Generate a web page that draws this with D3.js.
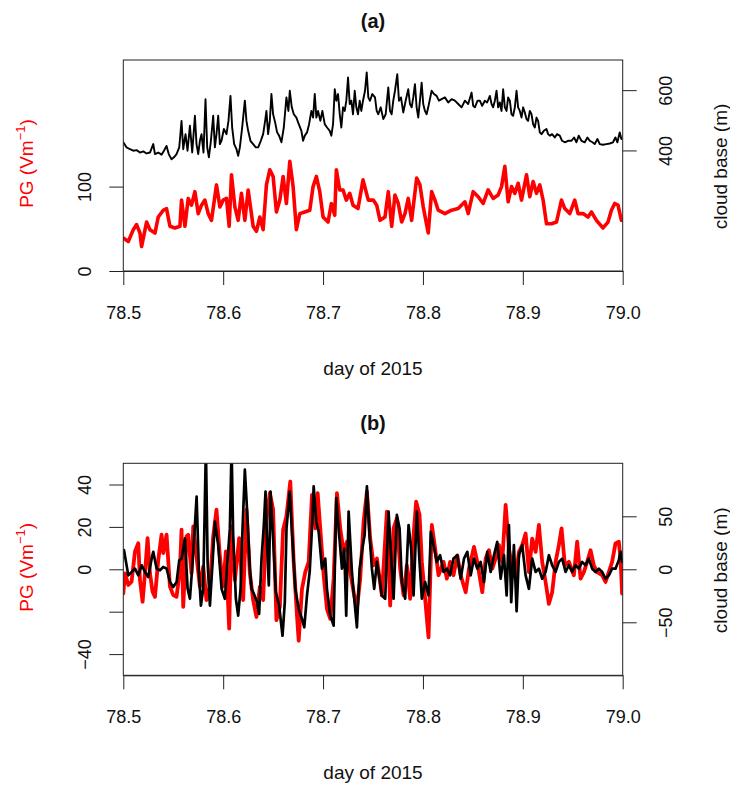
<!DOCTYPE html>
<html><head><meta charset="utf-8">
<script src="https://cdn.jsdelivr.net/npm/d3@7"></script>
<style>
html,body{margin:0;padding:0;background:#fff;}
svg{display:block;font-family:"Liberation Sans",Arial,Helvetica,sans-serif;}
</style></head><body>
<svg id="chart" width="730" height="785"></svg>
<script>
// ---------- DATA ----------
const xTicks = [78.5, 78.6, 78.7, 78.8, 78.9, 79.0];
const xTitle = "day of 2015";
const panelTitles = ["(a)", "(b)"];

// Panel (a): potential gradient (PG, V/m)
const aPgDay = [
78.5000,78.5050,78.5100,78.5133,78.5167,78.5183,78.5233,78.5267,78.5317,78.5350,
78.5400,78.5433,78.5467,78.5517,78.5567,78.5583,78.5617,78.5650,78.5683,78.5717,
78.5750,78.5783,78.5817,78.5850,78.5883,78.5933,78.5967,78.6000,78.6033,78.6060,
78.6083,78.6117,78.6150,78.6183,78.6217,78.6250,78.6300,78.6333,78.6367,78.6400,
78.6433,78.6467,78.6500,78.6533,78.6567,78.6600,78.6633,78.6667,78.6700,78.6733,
78.6767,78.6817,78.6867,78.6900,78.6933,78.6967,78.7000,78.7050,78.7083,78.7117,
78.7133,78.7167,78.7200,78.7233,78.7267,78.7300,78.7350,78.7400,78.7453,78.7503,
78.7537,78.7570,78.7620,78.7653,78.7687,78.7720,78.7753,78.7787,78.7820,78.7853,
78.7887,78.7937,78.7970,78.8003,78.8053,78.8087,78.8120,78.8153,78.8220,78.8287,
78.8353,78.8420,78.8453,78.8503,78.8553,78.8603,78.8653,78.8703,78.8753,78.8787,
78.8820,78.8853,78.8887,78.8920,78.8953,78.8987,78.9037,78.9070,78.9103,78.9137,
78.9170,78.9203,78.9237,78.9287,78.9337,78.9387,78.9420,78.9470,78.9520,78.9553,
78.9603,78.9653,78.9687,78.9737,78.9803,78.9853,78.9887,78.9920,78.9953,78.9987];
const aPg = [
39,35,49,55,45,29,58,49,45,64,
72,74,53,51,53,84,53,86,78,94,
68,78,84,68,60,102,76,84,86,53,
114,76,60,92,60,96,53,47,64,49,
102,120,112,70,84,112,80,130,100,49,
68,70,72,100,112,94,64,58,80,66,
120,96,96,84,92,78,74,108,84,84,
78,60,64,94,53,90,80,58,68,86,
60,110,102,76,45,94,84,72,68,72,
74,82,68,94,88,80,96,86,90,100,
124,82,100,92,104,84,114,88,106,92,
102,84,56,56,58,84,74,68,84,68,
68,64,70,60,51,58,72,80,78,60];

// Panel (a): cloud base (m)
const aCbDay = [
78.5000,78.5033,78.5067,78.5100,78.5133,78.5167,78.5200,78.5233,78.5267,78.5300,
78.5317,78.5350,78.5383,78.5407,78.5433,78.5457,78.5483,78.5507,78.5533,78.5560,
78.5583,78.5600,78.5623,78.5643,78.5667,78.5690,78.5717,78.5733,78.5750,78.5767,
78.5783,78.5803,78.5823,78.5840,78.5857,78.5877,78.5900,78.5917,78.5933,78.5950,
78.5967,78.5983,78.6007,78.6033,78.6053,78.6073,78.6090,78.6110,78.6133,78.6150,
78.6167,78.6190,78.6217,78.6233,78.6250,78.6273,78.6300,78.6327,78.6350,78.6377,
78.6400,78.6420,78.6433,78.6450,78.6467,78.6483,78.6500,78.6520,78.6540,78.6560,
78.6583,78.6607,78.6633,78.6653,78.6667,78.6687,78.6707,78.6733,78.6757,78.6783,
78.6800,78.6817,78.6840,78.6860,78.6883,78.6900,78.6917,78.6933,78.6950,78.6973,
78.6993,78.7017,78.7040,78.7067,78.7083,78.7100,78.7117,78.7133,78.7150,78.7167,
78.7183,78.7200,78.7217,78.7233,78.7250,78.7267,78.7283,78.7300,78.7317,78.7333,
78.7350,78.7367,78.7383,78.7400,78.7420,78.7437,78.7453,78.7470,78.7493,78.7520,
78.7537,78.7553,78.7577,78.7603,78.7627,78.7653,78.7670,78.7687,78.7703,78.7720,
78.7743,78.7760,78.7780,78.7803,78.7827,78.7853,78.7870,78.7887,78.7903,78.7920,
78.7937,78.7953,78.7970,78.7987,78.8003,78.8020,78.8037,78.8053,78.8087,78.8110,
78.8137,78.8160,78.8187,78.8220,78.8253,78.8287,78.8320,78.8353,78.8387,78.8420,
78.8453,78.8487,78.8503,78.8520,78.8547,78.8570,78.8593,78.8620,78.8643,78.8670,
78.8687,78.8703,78.8720,78.8737,78.8753,78.8770,78.8787,78.8803,78.8820,78.8837,
78.8853,78.8870,78.8887,78.8903,78.8920,78.8937,78.8953,78.8970,78.8987,78.9003,
78.9020,78.9037,78.9053,78.9070,78.9087,78.9103,78.9120,78.9137,78.9153,78.9170,
78.9187,78.9210,78.9237,78.9253,78.9270,78.9293,78.9320,78.9343,78.9370,78.9393,
78.9420,78.9453,78.9487,78.9513,78.9537,78.9560,78.9587,78.9620,78.9647,78.9670,
78.9697,78.9720,78.9747,78.9770,78.9803,78.9837,78.9870,78.9903,78.9927,78.9947,
78.9970,78.9987];
const aCb = [
427,410,404,399,401,393,397,390,393,421,
388,393,386,399,415,386,371,377,388,410,
498,404,454,399,482,393,515,421,388,432,
454,393,570,410,377,432,515,410,454,515,
421,432,471,454,498,581,476,421,404,382,
410,476,565,498,465,432,421,410,410,432,
454,498,531,454,498,587,520,493,460,449,
427,476,576,531,598,543,520,509,487,465,
432,449,460,487,531,509,587,509,531,498,
531,487,476,465,449,487,603,565,587,520,
476,543,531,565,642,554,565,520,598,543,
520,565,531,565,598,659,576,565,587,576,
531,520,543,504,520,609,531,520,565,598,
653,565,576,526,565,603,554,543,576,620,
543,509,565,625,554,531,520,543,598,587,
581,565,570,576,559,570,565,554,543,565,
554,592,548,543,565,565,548,565,559,581,
554,543,565,598,543,559,531,603,543,531,
576,565,520,515,543,598,543,531,509,543,
526,504,498,531,520,487,476,509,498,460,
454,465,471,454,449,454,443,454,449,432,
427,432,432,443,427,449,432,427,443,432,
427,421,438,421,419,421,423,427,443,427,
460,438];

// Panel (b): PG anomaly (V/m)
const bPgDay = [
78.5000,78.5017,78.5050,78.5083,78.5117,78.5150,78.5167,78.5193,78.5217,78.5243,
78.5267,78.5293,78.5317,78.5350,78.5383,78.5400,78.5433,78.5467,78.5500,78.5533,
78.5567,78.5583,78.5600,78.5633,78.5650,78.5683,78.5700,78.5733,78.5767,78.5800,
78.5833,78.5867,78.5900,78.5933,78.5967,78.6000,78.6027,78.6060,78.6083,78.6117,
78.6160,78.6200,78.6233,78.6267,78.6300,78.6333,78.6367,78.6400,78.6433,78.6467,
78.6500,78.6533,78.6567,78.6600,78.6633,78.6672,78.6706,78.6739,78.6756,78.6789,
78.6822,78.6856,78.6889,78.6922,78.6946,78.6972,78.7006,78.7039,78.7072,78.7106,
78.7139,78.7172,78.7206,78.7239,78.7272,78.7306,78.7339,78.7372,78.7406,78.7439,
78.7472,78.7506,78.7539,78.7589,78.7639,78.7672,78.7706,78.7739,78.7772,78.7806,
78.7839,78.7872,78.7906,78.7932,78.7966,78.7989,78.8022,78.8056,78.8089,78.8122,
78.8156,78.8206,78.8239,78.8272,78.8306,78.8344,78.8378,78.8428,78.8461,78.8511,
78.8544,78.8594,78.8628,78.8661,78.8694,78.8728,78.8761,78.8794,78.8828,78.8861,
78.8894,78.8928,78.8961,78.8994,78.9028,78.9061,78.9094,78.9128,78.9161,78.9194,
78.9228,78.9261,78.9294,78.9328,78.9361,78.9388,78.9421,78.9461,78.9511,78.9544,
78.9578,78.9611,78.9644,78.9678,78.9711,78.9744,78.9794,78.9828,78.9861,78.9894,
78.9928,78.9961,78.9978,78.9994];
const bPg = [
-11.4,-1.9,-7.4,-5.8,8.4,12.3,-5.1,-15.3,-1.9,14.7,
-1.9,-10.6,-13.0,4.4,16.3,7.6,16.3,-8.2,-12.2,-13.0,
-0.3,18.7,-17.7,15.5,16.3,-1.9,20.2,6.0,-8.2,1.3,
-14.5,-8.2,15.5,28.1,6.0,-8.2,8.4,-28.0,20.2,-5.1,
14.7,-14.5,28.1,-1.9,-14.5,-22.5,-8.2,-14.5,23.4,36.0,
28.1,-24.0,-17.7,18.7,25.0,41.4,3.5,-21.8,-33.7,-9.2,
-1.3,3.5,35.1,19.3,35.9,19.3,-2.8,-18.7,-23.4,-4.4,
35.9,19.3,8.2,13.0,-1.3,-10.8,-18.7,-4.4,22.5,36.7,
14.5,1.9,5.1,-12.3,27.2,-17.1,19.3,24.0,0.3,-12.3,
1.9,-13.9,16.1,31.9,25.6,3.5,-13.9,-32.1,20.9,9.8,
-2.8,3.5,-4.4,3.5,-2.8,6.6,-2.8,-10.8,0.3,10.6,
3.5,-10.8,5.1,9.0,0.3,5.1,11.4,3.5,30.4,9.8,
0.3,-4.4,8.2,11.4,16.9,-1.3,14.5,8.2,20.9,3.5,
-6.0,-16.3,-10.8,3.5,11.4,19.3,1.9,3.5,-2.8,13.0,
-4.4,-1.3,3.5,9.0,1.9,-1.3,-2.8,-6.0,-1.3,3.5,
12.2,13.0,5.1,-11.5];

// Panel (b): cloud base anomaly (m)
const bCbDay = [
78.5007,78.5027,78.5050,78.5084,78.5117,78.5150,78.5184,78.5217,78.5250,78.5284,
78.5300,78.5334,78.5367,78.5400,78.5434,78.5467,78.5500,78.5534,78.5560,78.5584,
78.5617,78.5644,78.5667,78.5694,78.5717,78.5734,78.5757,78.5777,78.5800,78.5827,
78.5844,78.5867,78.5894,78.5917,78.5950,78.5984,78.6017,78.6040,78.6067,78.6084,
78.6100,78.6127,78.6150,78.6174,78.6194,78.6217,78.6240,78.6267,78.6284,78.6300,
78.6334,78.6360,78.6384,78.6407,78.6424,78.6440,78.6457,78.6474,78.6500,78.6527,
78.6560,78.6594,78.6617,78.6634,78.6666,78.6689,78.6722,78.6756,78.6789,78.6812,
78.6839,78.6866,78.6889,78.6906,78.6932,78.6956,78.6989,78.7022,78.7039,78.7072,
78.7106,78.7132,78.7156,78.7189,78.7212,78.7232,78.7256,78.7289,78.7306,78.7339,
78.7366,78.7399,78.7416,78.7439,78.7466,78.7489,78.7512,78.7539,78.7566,78.7589,
78.7622,78.7656,78.7679,78.7706,78.7739,78.7766,78.7789,78.7822,78.7856,78.7882,
78.7906,78.7939,78.7966,78.7989,78.8022,78.8056,78.8079,78.8106,78.8139,78.8172,
78.8206,78.8239,78.8272,78.8306,78.8344,78.8378,78.8411,78.8444,78.8478,78.8511,
78.8544,78.8578,78.8611,78.8644,78.8678,78.8711,78.8744,78.8778,78.8811,78.8838,
78.8861,78.8884,78.8911,78.8938,78.8961,78.8994,78.9028,78.9061,78.9094,78.9128,
78.9161,78.9194,78.9228,78.9261,78.9294,78.9328,78.9361,78.9394,78.9428,78.9461,
78.9494,78.9528,78.9561,78.9594,78.9628,78.9661,78.9694,78.9728,78.9761,78.9794,
78.9828,78.9861,78.9894,78.9928,78.9961,78.9978,78.9994];
const bCb = [
18.0,7.0,-5.7,-2.5,0.6,-5.7,3.8,-2.5,-7.3,10.1,
16.5,0.6,-0.9,2.2,0.6,-12.0,-16.8,-12.0,8.5,10.1,
29.1,-18.4,-27.8,7.0,41.8,68.7,-2.5,-34.2,-18.4,115,
7.0,-34.2,7.0,44.9,22.8,-18.4,-27.8,3.8,38.6,115,
32.3,-27.8,-43.7,-18.4,38.6,94.0,54.4,0.6,-18.4,-21.5,
-29.4,-42.1,10.1,41.8,73.4,22.8,-15.2,73.4,29.1,-21.5,
-34.2,-62.7,-31.0,38.6,73.4,35.4,-18.4,-37.3,-46.8,-54.7,
-24.7,-2.5,38.6,78.2,44.9,35.4,0.6,10.1,-18.4,-43.7,
-53.2,67.1,38.6,0.6,19.6,-43.7,54.4,-2.5,-21.5,-54.7,
0.6,22.8,32.3,78.2,32.3,0.6,-18.4,7.0,-8.9,-24.7,
-27.8,54.4,16.5,-27.8,51.3,38.6,-12.0,-27.8,41.8,19.6,
-24.7,54.4,7.0,-27.8,-12.0,-24.7,35.4,22.8,7.0,13.3,
-2.5,0.6,-5.7,10.1,13.3,-8.9,10.1,16.5,-5.7,10.1,
0.6,7.0,-12.0,16.5,-2.5,13.3,25.9,-8.9,13.3,-24.7,
41.8,-31.0,22.8,-39.6,13.3,22.8,-5.7,-18.4,10.1,-2.5,
0.6,-8.9,-2.5,13.3,3.8,-2.5,7.0,10.1,-2.5,3.8,
-2.5,3.8,0.6,7.0,3.8,10.1,0.6,-2.5,0.6,-2.5,
-8.9,-5.7,0.6,0.6,8.5,16.5,7.0];

// Axis ticks / labels
const aPgTicks = [0, 100];
const aCbTicks = [400, 600];
const bPgTicks = [-40, -20, 0, 20, 40];
const bPgTickLabels = ["\u221240", "", "0", "20", "40"];
const bCbTicks = [-50, 0, 50];
const bCbTickLabels = ["\u221250", "0", "50"];

// ---------- DRAWING ----------
const FONT = "'Liberation Sans', Arial, Helvetica, sans-serif";
const svg = d3.select("#chart");
const X0 = 123.3, X1 = 622.7;
const x = d3.scaleLinear().domain([78.5, 79.0]).range([X0, X1]);

function pairs(days, vals) {
  const n = Math.min(days.length, vals.length);
  return d3.range(n).map(i => [days[i], vals[i]]);
}

const panels = [
  { id: "a", title: panelTitles[0], top: 60, bottom: 271, titleY: 28,
    pgDom: [0, 250], cbDom: [0, 700],
    pg: pairs(aPgDay, aPg), cb: pairs(aCbDay, aCb),
    pgTicks: aPgTicks, pgLabels: aPgTicks.map(String),
    cbTicks: aCbTicks, cbLabels: aCbTicks.map(String),
    pgWidth: 3.6, cbWidth: 1.9 },
  { id: "b", title: panelTitles[1], top: 463.3, bottom: 675.3, titleY: 430,
    pgDom: [-50, 50], cbDom: [-100, 100],
    pg: pairs(bPgDay, bPg), cb: pairs(bCbDay, bCb),
    pgTicks: bPgTicks, pgLabels: bPgTickLabels,
    cbTicks: bCbTicks, cbLabels: bCbTickLabels,
    pgWidth: 3.8, cbWidth: 2.7 }
];

panels.forEach(p => {
  const g = svg.append("g");
  const yL = d3.scaleLinear().domain(p.pgDom).range([p.bottom, p.top]);
  const yR = d3.scaleLinear().domain(p.cbDom).range([p.bottom, p.top]);
  const cid = "clip-" + p.id;
  svg.append("clipPath").attr("id", cid).append("rect")
    .attr("x", X0).attr("y", p.top).attr("width", X1 - X0).attr("height", p.bottom - p.top);

  const lines = g.append("g").attr("clip-path", `url(#${cid})`);
  const lineL = d3.line().x(d => x(d[0])).y(d => yL(d[1]));
  const lineR = d3.line().x(d => x(d[0])).y(d => yR(d[1]));
  lines.append("path").datum(p.pg).attr("d", lineL)
    .attr("fill", "none").attr("stroke", "#ff0000").attr("stroke-width", p.pgWidth)
    .attr("stroke-linejoin", "round").attr("stroke-linecap", "round");
  lines.append("path").datum(p.cb).attr("d", lineR)
    .attr("fill", "none").attr("stroke", "#000").attr("stroke-width", p.cbWidth)
    .attr("stroke-linejoin", "round").attr("stroke-linecap", "round");

  // box
  g.append("rect").attr("x", X0).attr("y", p.top).attr("width", X1 - X0).attr("height", p.bottom - p.top)
    .attr("fill", "none").attr("stroke", "#222").attr("stroke-width", 1);

  // bottom axis
  const ax = g.append("g").attr("transform", `translate(0,${p.bottom})`)
    .call(d3.axisBottom(x).tickValues(xTicks).tickFormat(d3.format(".1f")).tickSize(14).tickSizeOuter(0));
  ax.attr("font-size", 18).attr("font-family", FONT).attr("color", "#222");
  ax.selectAll("text").attr("y", 48).attr("dy", 0).attr("fill", "#111");

  // left axis
  const al = g.append("g").attr("transform", `translate(${X0},0)`)
    .call(d3.axisLeft(yL).tickValues(p.pgTicks).tickFormat((d, i) => p.pgLabels[i]).tickSize(14).tickSizeOuter(0));
  al.attr("font-size", 18).attr("font-family", FONT).attr("color", "#222");
  al.select(".domain").remove();
  al.selectAll("text").attr("transform", "rotate(-90)").attr("text-anchor", "middle")
    .attr("x", 0).attr("y", -32).attr("dy", 0).attr("fill", "#111");

  // right axis
  const ar = g.append("g").attr("transform", `translate(${X1},0)`)
    .call(d3.axisRight(yR).tickValues(p.cbTicks).tickFormat((d, i) => p.cbLabels[i]).tickSize(14).tickSizeOuter(0));
  ar.attr("font-size", 18).attr("font-family", FONT).attr("color", "#222");
  ar.select(".domain").remove();
  ar.selectAll("text").attr("transform", "rotate(-90)").attr("text-anchor", "middle")
    .attr("x", 0).attr("y", 49).attr("dy", 0).attr("fill", "#111");

  // title
  g.append("text").attr("x", (X0 + X1) / 2).attr("y", p.titleY).attr("text-anchor", "middle")
    .attr("font-family", FONT).attr("font-size", 20).attr("font-weight", "bold").attr("fill", "#111")
    .text(p.title);

  // x title
  g.append("text").attr("x", (X0 + X1) / 2).attr("y", p.bottom + 103.5).attr("text-anchor", "middle")
    .attr("font-family", FONT).attr("font-size", 19).attr("fill", "#111").text(xTitle);

  // left title (PG (Vm^-1)) in red
  const cy = (p.top + p.bottom) / 2 - 2;
  const lt = g.append("text").attr("transform", `translate(33,${cy}) rotate(-90)`)
    .attr("text-anchor", "middle").attr("font-family", FONT).attr("font-size", 19).attr("fill", "#ff0000");
  lt.append("tspan").text("PG (Vm");
  lt.append("tspan").attr("font-size", 13).attr("dy", -8).text("\u22121");
  lt.append("tspan").attr("dy", 8).text(")");

  // right title
  g.append("text").attr("transform", `translate(727,${(p.top + p.bottom) / 2 + 1}) rotate(-90)`)
    .attr("text-anchor", "middle").attr("font-family", FONT).attr("font-size", 19).attr("fill", "#111")
    .text("cloud base (m)");
});
</script>
</body></html>
